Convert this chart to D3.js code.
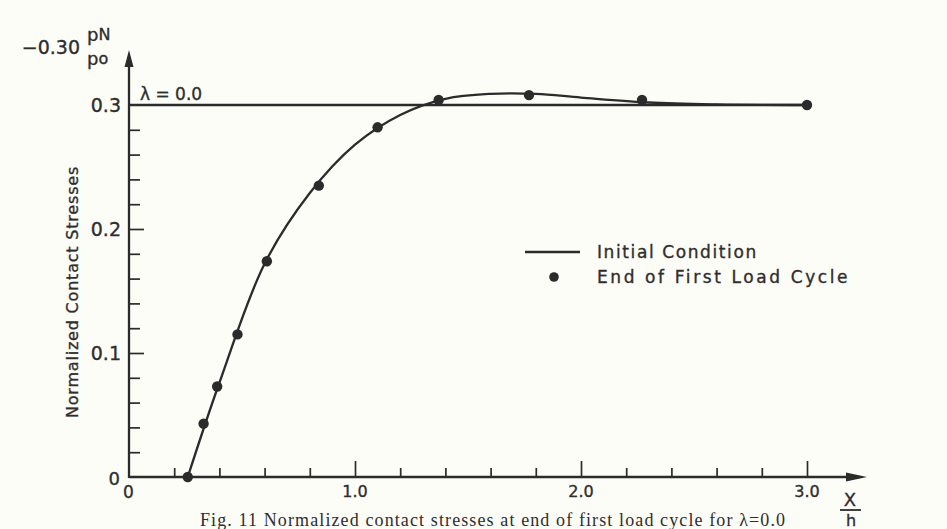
<!DOCTYPE html>
<html>
<head>
<meta charset="utf-8">
<script src="https://cdnjs.cloudflare.com/ajax/libs/d3/7.8.5/d3.min.js"></script>
<style>
  body { margin: 0; background: #fdfdf7; }
  svg { display: block; }
  text { fill: #2e2e2e; stroke: #2e2e2e; stroke-width: 0.35px; font-family: "DejaVu Sans", sans-serif; }
</style>
</head>
<body>
<div id="chart"></div>
<script>
// data
var cycleX = [0.26, 0.33, 0.39, 0.48, 0.61, 0.84, 1.10, 1.37, 1.77, 2.27, 3.0];
var cycleY = [0.0, 0.043, 0.073, 0.115, 0.174, 0.235, 0.282, 0.304, 0.308, 0.304, 0.300];

// fitted curve through the cycle results
var curveX = [0.26, 0.40, 0.60, 0.80, 1.00, 1.20, 1.40, 1.60, 1.80, 2.00, 2.30, 2.60, 3.0];
var curveY = [0.0, 0.076, 0.172, 0.229, 0.268, 0.292, 0.305, 0.309, 0.309, 0.306, 0.302, 0.3005, 0.300];

// initial condition
var initialX = [0, 3.0];
var initialY = [0.3, 0.3];

var xMinor = [0.2, 0.4, 0.6, 0.8, 1.2, 1.4, 1.6, 1.8, 2.2, 2.4, 2.6, 2.8];
var xMajor = [1.0, 2.0, 3.0];
var xLabels = ["1.0", "2.0", "3.0"];
var yMinor = [0.02, 0.04, 0.06, 0.08, 0.12, 0.14, 0.16, 0.18, 0.22, 0.24, 0.26, 0.28];
var yMajor = [0.1, 0.2, 0.3];
var yLabels = ["0.1", "0.2", "0.3"];

var ink = "#2b2b2b";
var width = 947, height = 529;

var svg = d3.select("#chart").append("svg")
    .attr("width", width)
    .attr("height", height);

var x = d3.scaleLinear().domain([0, 3]).range([129, 807]);
var y = d3.scaleLinear().domain([0, 0.3]).range([477, 105]);

// x ticks (pointing up)
svg.append("g")
    .attr("transform", "translate(0," + y(0) + ")")
    .call(d3.axisBottom(x).tickValues(xMinor).tickSize(-9).tickFormat(""))
    .call(function (g) { g.select(".domain").remove(); });
svg.append("g")
    .attr("transform", "translate(0," + y(0) + ")")
    .call(d3.axisBottom(x).tickValues(xMajor).tickSize(-16).tickFormat(""))
    .call(function (g) { g.select(".domain").remove(); });

// y ticks (pointing right)
svg.append("g")
    .attr("transform", "translate(" + x(0) + ",0)")
    .call(d3.axisLeft(y).tickValues(yMinor).tickSize(-11).tickFormat(""))
    .call(function (g) { g.select(".domain").remove(); });
svg.append("g")
    .attr("transform", "translate(" + x(0) + ",0)")
    .call(d3.axisLeft(y).tickValues(yMajor.slice(0, 2)).tickSize(-15).tickFormat(""))
    .call(function (g) { g.select(".domain").remove(); });

svg.selectAll(".tick line").attr("stroke", ink).attr("stroke-width", 1.7);

// axis lines with arrows
svg.append("line")
    .attr("x1", x(0)).attr("y1", y(0))
    .attr("x2", 850).attr("y2", y(0))
    .attr("stroke", ink).attr("stroke-width", 2.3);
svg.append("path")
    .attr("d", "M846," + (y(0) - 4.5) + "L867," + y(0) + "L846," + (y(0) + 4.5) + "Z")
    .attr("fill", ink);
svg.append("line")
    .attr("x1", x(0)).attr("y1", y(0) + 1)
    .attr("x2", x(0)).attr("y2", 64)
    .attr("stroke", ink).attr("stroke-width", 2.3);
svg.append("path")
    .attr("d", "M" + (x(0) - 4.5) + ",67L" + x(0) + ",50L" + (x(0) + 4.5) + ",67Z")
    .attr("fill", ink);

// tick labels
svg.selectAll(".xlab")
    .data(xMajor)
    .enter().append("text")
    .attr("x", function (d) { return x(d); })
    .attr("y", y(0) + 20)
    .attr("text-anchor", "middle")
    .style("font-size", "16px")
    .text(function (d, i) { return xLabels[i]; });

svg.selectAll(".ylab")
    .data(yMajor)
    .enter().append("text")
    .attr("x", x(0) - 8)
    .attr("y", function (d) { return y(d) + 7; })
    .attr("text-anchor", "end")
    .style("font-size", "19px")
    .text(function (d, i) { return yLabels[i]; });

svg.append("text").attr("x", x(0) - 9).attr("y", y(0) + 8)
    .attr("text-anchor", "end").style("font-size", "18px").text("0");
svg.append("text").attr("x", x(0) - 6).attr("y", y(0) + 21)
    .style("font-size", "17px").text("0");

// axis titles
svg.append("text").attr("x", 80).attr("y", 54)
    .attr("text-anchor", "end").style("font-size", "19px").text("\u22120.30");
svg.append("text").attr("x", 87).attr("y", 41)
    .style("font-size", "18px").text("p")
    .append("tspan").style("font-size", "16px").attr("dy", -1).text("N");
svg.append("text").attr("x", 87).attr("y", 65)
    .style("font-size", "18px").text("p")
    .append("tspan").style("font-size", "16px").attr("dy", -1).text("o");

svg.append("text")
    .attr("transform", "translate(78," + 292 + ") rotate(-90)")
    .attr("text-anchor", "middle")
    .style("font-size", "16px")
    .style("letter-spacing", "0.8px")
    .text("Normalized Contact Stresses");

svg.append("text").attr("x", 850).attr("y", 506)
    .attr("text-anchor", "middle").style("font-size", "18px").text("X");
svg.append("line").attr("x1", 840).attr("x2", 861).attr("y1", 510).attr("y2", 510)
    .attr("stroke", ink).attr("stroke-width", 1.8);
svg.append("text").attr("x", 851).attr("y", 526)
    .attr("text-anchor", "middle").style("font-size", "16px").text("h");

svg.append("text").attr("x", 140).attr("y", 100)
    .style("font-size", "17px").text("\u03bb = 0.0");

// initial condition line
var line = d3.line()
    .x(function (d) { return x(d[0]); })
    .y(function (d) { return y(d[1]); });

svg.append("path")
    .datum(d3.zip(initialX, initialY))
    .attr("d", line)
    .attr("fill", "none").attr("stroke", ink).attr("stroke-width", 2.3);

// fitted curve
svg.append("path")
    .datum(d3.zip(curveX, curveY))
    .attr("d", line.curve(d3.curveCatmullRom.alpha(0.5)))
    .attr("fill", "none").attr("stroke", ink).attr("stroke-width", 2.3);

// end of first load cycle points
svg.selectAll(".dot")
    .data(d3.zip(cycleX, cycleY))
    .enter().append("circle")
    .attr("cx", function (d) { return x(d[0]); })
    .attr("cy", function (d) { return y(d[1]); })
    .attr("r", 5.2)
    .attr("fill", ink);

// legend
svg.append("line").attr("x1", 525).attr("x2", 580).attr("y1", 252).attr("y2", 252)
    .attr("stroke", ink).attr("stroke-width", 2.3);
svg.append("text").attr("x", 597).attr("y", 258)
    .style("font-size", "17px").style("letter-spacing", "1.6px").text("Initial Condition");
svg.append("circle").attr("cx", 554).attr("cy", 277).attr("r", 4.8).attr("fill", ink);
svg.append("text").attr("x", 597).attr("y", 283)
    .style("font-size", "17px").style("letter-spacing", "2.6px").text("End of First Load Cycle");

// caption at the bottom edge
svg.append("text").attr("x", 200).attr("y", 526)
    .style("font-family", "'Liberation Serif', serif")
    .style("font-size", "18px")
    .style("stroke-width", "0px")
    .attr("textLength", 585)
    .text("Fig. 11 Normalized contact stresses at end of first load cycle for \u03bb=0.0");
</script>
</body>
</html>
